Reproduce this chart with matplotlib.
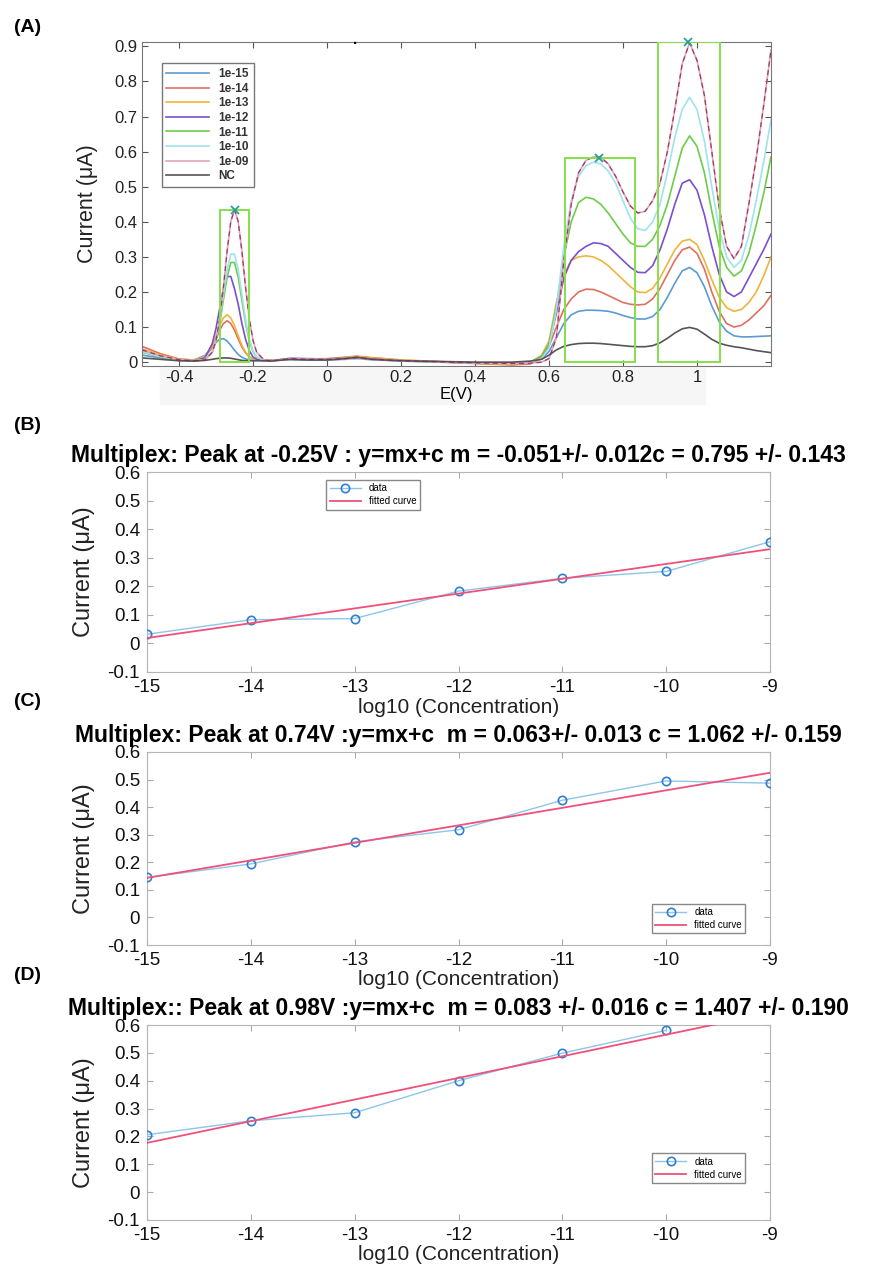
import matplotlib
matplotlib.use('Agg')

import matplotlib.pyplot as plt
import numpy as np
from matplotlib.patches import Rectangle
from matplotlib.ticker import FormatStrFormatter

plt.rcParams['axes.unicode_minus'] = False
plt.rcParams['font.family'] = ['Liberation Sans', 'DejaVu Sans']

# ---- panel A : voltammograms ----
E = [-0.50, -0.45, -0.40, -0.36, -0.33, -0.31, -0.30, -0.29, -0.28, -0.27,
     -0.26, -0.25, -0.24, -0.23, -0.22, -0.21, -0.20, -0.19, -0.17, -0.15,
     -0.10, -0.05, 0.00, 0.05, 0.08, 0.12, 0.20, 0.30, 0.40, 0.50,
     0.55, 0.58, 0.60, 0.62, 0.64, 0.66, 0.68, 0.70, 0.72, 0.74,
     0.76, 0.78, 0.80, 0.82, 0.84, 0.86, 0.88, 0.90, 0.92, 0.94,
     0.96, 0.98, 1.00, 1.02, 1.04, 1.06, 1.08, 1.10, 1.12, 1.14,
     1.16, 1.18, 1.20]

i_1e15 = [.020, .012, .005, .006, .019, .043, .056, .065, .067, .060,
          .048, .034, .022, .014, .009, .006, .005, .005, .005, .005,
          .007, .006, .006, .008, .010, .007, .003, .000, -.003, -.005,
          -.003, .010, .030, .070, .110, .135, .145, .148, .148, .147,
          .145, .140, .133, .127, .123, .123, .130, .150, .185, .225,
          .260, .270, .255, .215, .160, .115, .088, .075, .072, .072,
          .073, .074, .075]
i_1e14 = [.045, .024, .009, .006, .015, .043, .066, .091, .110, .118,
          .110, .091, .066, .043, .026, .015, .010, .007, .005, .005,
          .009, .009, .010, .014, .017, .013, .006, .001, -.004, -.008,
          -.005, .015, .045, .100, .150, .180, .200, .208, .207, .200,
          .190, .180, .170, .165, .163, .165, .180, .210, .250, .290,
          .320, .328, .310, .265, .200, .145, .110, .100, .105, .120,
          .140, .160, .190]
i_1e13 = [.038, .020, .008, .006, .016, .048, .075, .104, .126, .135,
          .126, .104, .075, .048, .028, .016, .010, .006, .005, .005,
          .008, .008, .009, .013, .016, .012, .006, .002, -.003, -.006,
          .000, .020, .060, .170, .250, .290, .300, .303, .300, .290,
          .275, .255, .235, .215, .200, .198, .210, .240, .280, .320,
          .345, .350, .335, .290, .235, .185, .155, .145, .150, .170,
          .200, .245, .300]
i_1e12 = [.030, .016, .006, .004, .012, .053, .096, .153, .209, .244,
          .244, .209, .165, .110, .065, .033, .015, .008, .004, .004,
          .011, .010, .009, .011, .013, .009, .004, .001, -.002, -.003,
          .000, .015, .050, .140, .240, .290, .315, .330, .340, .338,
          .330, .310, .290, .270, .256, .255, .275, .320, .380, .450,
          .510, .520, .490, .420, .330, .250, .200, .187, .200, .240,
          .280, .320, .365]
i_1e11 = [.028, .015, .006, .004, .007, .030, .060, .111, .177, .242,
          .284, .284, .242, .177, .111, .060, .030, .014, .005, .005,
          .009, .008, .008, .010, .012, .008, .004, .001, -.002, -.003,
          .000, .015, .050, .160, .300, .400, .455, .470, .465, .450,
          .425, .395, .365, .340, .330, .330, .350, .390, .450, .530,
          .610, .645, .615, .540, .430, .330, .270, .245, .260, .310,
          .390, .480, .585]
i_1e10 = [.030, .016, .006, .004, .007, .032, .065, .120, .192, .263,
          .308, .308, .263, .192, .120, .065, .032, .015, .005, .004,
          .008, .007, .007, .009, .010, .007, .004, .001, -.002, -.003,
          .000, .010, .040, .150, .330, .460, .530, .560, .570, .565,
          .545, .510, .460, .410, .380, .375, .400, .450, .540, .640,
          .720, .755, .720, .630, .500, .380, .300, .270, .290, .360,
          .460, .570, .690]
i_1e09 = [.035, .018, .007, .004, .006, .028, .062, .124, .213, .316,
          .401, .434, .401, .316, .213, .124, .062, .028, .006, .004,
          .010, .008, .008, .010, .012, .008, .004, .001, -.002, -.004,
          -.003, .000, .010, .070, .290, .450, .540, .575, .585, .584,
          .565, .530, .485, .445, .425, .430, .460, .510, .600, .720,
          .850, .910, .860, .760, .600, .440, .330, .295, .330, .450,
          .580, .730, .890]
i_nc = [.012, .008, .004, .003, .005, .008, .010, .011, .012, .012,
        .011, .009, .007, .005, .004, .004, .004, .004, .004, .003,
        .008, .006, .006, .010, .014, .008, .004, .002, .000, .000,
        .003, .008, .020, .035, .045, .050, .053, .054, .054, .053,
        .051, .049, .047, .045, .044, .044, .047, .055, .068, .083,
        .095, .099, .094, .080, .065, .054, .048, .044, .041, .037,
        .033, .030, .027]

scan_labels = ['1e-15', '1e-14', '1e-13', '1e-12', '1e-11', '1e-10', '1e-09', 'NC']
scan_colors = ['#5b9bd5', '#e0705c', '#f0b43c', '#7b4fd0', '#6ccc4c', '#9fe2f0',
               '#e3a3b6', '#555555']

peak_E = [-0.25, 0.735, 0.975]
peak_I = [0.435, 0.583, 0.912]
box_E = [(-0.288, -0.212), (0.643, 0.832), (0.894, 1.062)]

# ---- panels B-D : calibration ----
logc = [-15, -14, -13, -12, -11, -10, -9]
pk_m025 = [0.032, 0.083, 0.087, 0.183, 0.228, 0.252, 0.356]
pk_074 = [0.145, 0.194, 0.274, 0.318, 0.425, 0.495, 0.487]
pk_098 = [0.206, 0.256, 0.285, 0.400, 0.499, 0.581]

titles = ['Multiplex: Peak at -0.25V : y=mx+c m = -0.051+/- 0.012c = 0.795 +/- 0.143',
          'Multiplex: Peak at 0.74V :y=mx+c  m = 0.063+/- 0.013 c = 1.062 +/- 0.159',
          'Multiplex:: Peak at 0.98V :y=mx+c  m = 0.083 +/- 0.016 c = 1.407 +/- 0.190']

W, H = 871, 1265
fig = plt.figure(figsize=(W / 100, H / 100), dpi=100)


def px_axes(left, top, right, bottom):
    return fig.add_axes([left / W, 1 - bottom / H, (right - left) / W, (bottom - top) / H])


# faint band behind the E(V) ticks (drawn under the axes)
fig.patches.append(Rectangle((160 / W, 1 - 404 / H), 545 / W, 36 / H,
                             transform=fig.transFigure, color='#f6f6f6', zorder=-1))

axA = px_axes(142, 42, 771, 366)
scans = [i_1e15, i_1e14, i_1e13, i_1e12, i_1e11, i_1e10, i_1e09, i_nc]
for y, lab, col in zip(scans, scan_labels, scan_colors):
    axA.plot(E, y, color=col, lw=1.2, label=lab)
axA.plot(E, i_1e09, color='#8a2050', lw=0.9, ls=(0, (4, 3)), alpha=0.8)
for (e0, e1), top in zip(box_E, peak_I):
    axA.add_patch(Rectangle((e0, 0), e1 - e0, top, fill=False, ec='#86e04a', lw=1.4, zorder=5))
axA.plot(peak_E, peak_I, 'x', color='#2a9d9a', ms=6, mew=1.3, zorder=6, clip_on=False)

axA.set_xlim(-0.5, 1.2)
axA.set_ylim(-0.011, 0.9125)
axA.set_xticks([-0.4, -0.2, 0, 0.2, 0.4, 0.6, 0.8, 1])
axA.set_yticks(np.arange(0, 0.95, 0.1))
axA.xaxis.set_major_formatter(FormatStrFormatter('%g'))
axA.yaxis.set_major_formatter(FormatStrFormatter('%g'))
axA.tick_params(direction='in', top=True, right=True, length=4, width=0.8,
                labelsize=12, colors='#555555', labelcolor='#222222', pad=3)
for s in axA.spines.values():
    s.set_color('#777777')
axA.set_xlabel('E(V)', fontsize=12, labelpad=1)
axA.set_ylabel('Current (μA)', fontsize=15.5, color='#222222')
axA.yaxis.set_label_coords(-0.07, 0.5)
leg = axA.legend(loc='upper left', bbox_to_anchor=(0.022, 0.952), fontsize=8.5,
                 handlelength=3.6, labelspacing=0.22, borderpad=0.4,
                 fancybox=False, framealpha=1, edgecolor='#777777')
for t in leg.get_texts():
    t.set_fontweight('bold')
    t.set_color('#333333')
fig.text(355 / W, 1 - 40 / H, '.', fontsize=11, fontweight='bold', ha='center', va='center')


def fit_panel(ax, x, y, title, leg_kw):
    coef = np.polyfit(x, y, 1)
    ax.plot(x, y, '-o', color='#8ec5ea', lw=1.0, mfc='none', mec='#2f7fd0', ms=6,
            mew=1.2, label='data', zorder=3)
    ax.plot([-15, -9], np.polyval(coef, [-15, -9]), color='#f0507a', lw=1.3,
            label='fitted curve', zorder=4)
    ax.set_xlim(-15, -9)
    ax.set_ylim(-0.1, 0.6)
    ax.set_xticks(logc)
    ax.set_yticks(np.arange(-0.1, 0.65, 0.1))
    ax.xaxis.set_major_formatter(FormatStrFormatter('%g'))
    ax.yaxis.set_major_formatter(FormatStrFormatter('%g'))
    ax.tick_params(direction='in', top=True, right=True, length=4, width=0.8,
                   labelsize=13.5, colors='#aaaaaa', labelcolor='#111111', pad=5)
    for s in ax.spines.values():
        s.set_color('#b5b5b5')
    ax.set_title(title, fontsize=16.5, fontweight='bold', pad=7)
    ax.set_xlabel('log10 (Concentration)', fontsize=15, color='#222222')
    ax.xaxis.set_label_coords(0.5, -0.13)
    ax.set_ylabel('Current (μA)', fontsize=17, color='#222222')
    ax.yaxis.set_label_coords(-0.083, 0.5)
    ax.legend(fontsize=7, handlelength=3.2, numpoints=1, fancybox=False,
              framealpha=1, edgecolor='#888888', borderpad=0.35,
              labelspacing=0.3, **leg_kw)


axB = px_axes(147, 472, 770, 672)
fit_panel(axB, logc, pk_m025, titles[0],
          dict(loc='upper left', bbox_to_anchor=(0.28, 0.985)))
axC = px_axes(147, 752, 770, 945)
fit_panel(axC, logc, pk_074, titles[1],
          dict(loc='lower right', bbox_to_anchor=(0.968, 0.035)))
axD = px_axes(147, 1025, 770, 1220)
fit_panel(axD, logc[:6], pk_098, titles[2],
          dict(loc='lower right', bbox_to_anchor=(0.968, 0.165)))

for lab, ypx in zip(['(A)', '(B)', '(C)', '(D)'], [28, 425, 702, 975]):
    fig.text(14 / W, 1 - ypx / H, lab, fontsize=14, fontweight='bold', va='center')

fig.savefig('out.png', dpi=100)
